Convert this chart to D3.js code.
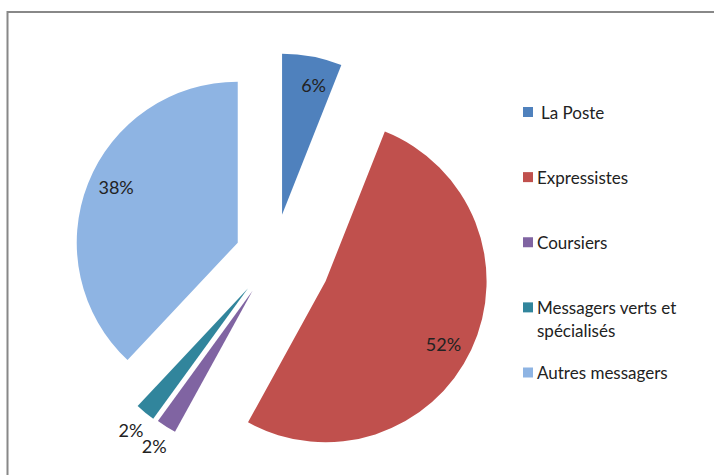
<!DOCTYPE html>
<html>
<head>
<meta charset="utf-8">
<script src="https://cdn.jsdelivr.net/npm/d3@7"></script>
<style>
  body { margin: 0; background: #fff; }
  svg { display: block; }
  text { font-family: Lato, "Open Sans", sans-serif; fill: #222; }
</style>
</head>
<body>
<svg id="chart" width="714" height="475"></svg>
<script>
// data
var categories = ["La Poste", "Expressistes", "Coursiers", "Messagers verts et spécialisés", "Autres messagers"];
var shares = [6, 52, 2, 2, 38];
var colors = ["#4f81bd", "#c0504d", "#8064a2", "#31859c", "#8eb4e3"];
// how far each slice is pulled out of the pie (px)
var explode = [43, 57, 40, 41, 39];

var svg = d3.select("#chart");
var cx = 274, cy = 257, radius = 161;

// outer frame
svg.append("rect")
  .attr("x", 7.5).attr("y", 12)
  .attr("width", 720).attr("height", 480)
  .attr("fill", "none")
  .attr("stroke", "#888")
  .attr("stroke-width", 2);

var pie = d3.pie().sort(null).value(function (d) { return d; });
var arcs = pie(shares);
var arc = d3.arc().innerRadius(0).outerRadius(radius);

var pieG = svg.append("g").attr("transform", "translate(" + cx + "," + cy + ")");

var slice = pieG.selectAll("g.slice")
  .data(arcs)
  .enter()
  .append("g")
  .attr("class", "slice")
  .attr("transform", function (d, i) {
    var a = (d.startAngle + d.endAngle) / 2;
    return "translate(" + (Math.sin(a) * explode[i]) + "," + (-Math.cos(a) * explode[i]) + ")";
  });

slice.append("path")
  .attr("d", arc)
  .attr("fill", function (d, i) { return colors[i]; });

// label spot: big slices inside, tiny ones just outside
function labelPos(d) {
  var a = (d.startAngle + d.endAngle) / 2;
  var r = radius * 1.14;
  if (d.data >= 5) {
    a += 0.05;
    r = radius * 0.83;
  }
  return [Math.sin(a) * r, -Math.cos(a) * r];
}

slice.append("text")
  .attr("x", function (d) { return labelPos(d)[0]; })
  .attr("y", function (d) { return labelPos(d)[1]; })
  .attr("text-anchor", "middle")
  .attr("dominant-baseline", "central")
  .style("font-size", "18px")
  .text(function (d) { return d.data + "%"; });

// legend
var legendY = d3.scalePoint().domain(categories).range([112, 372.5]);
var legend = svg.append("g");

var item = legend.selectAll("g")
  .data(categories)
  .enter()
  .append("g")
  .attr("transform", function (d) { return "translate(523," + legendY(d) + ")"; });

item.append("rect")
  .attr("x", 0).attr("y", -5)
  .attr("width", 10).attr("height", 10)
  .attr("fill", function (d, i) { return colors[i]; });

item.append("text")
  .attr("x", function (d, i) { return i == 0 ? 18 : 14; })
  .attr("y", 0)
  .attr("dominant-baseline", "central")
  .style("font-size", "17px")
  .each(function (d) {
    var t = d3.select(this);
    if (d == "Messagers verts et spécialisés") {
      t.append("tspan").attr("x", 14).attr("dy", 0).text("Messagers verts et");
      t.append("tspan").attr("x", 14).attr("dy", 23).text("spécialisés");
    } else {
      t.text(d);
    }
  });
</script>
</body>
</html>
